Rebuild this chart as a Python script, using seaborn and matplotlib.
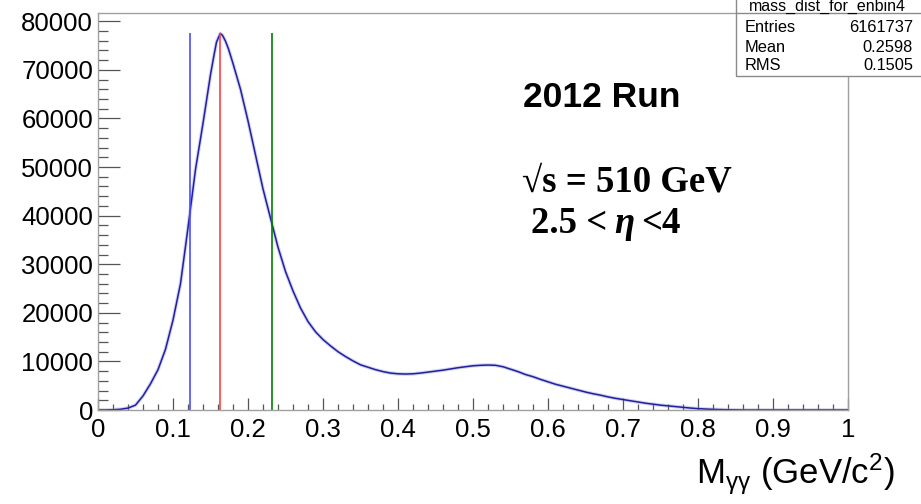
import matplotlib
matplotlib.use("Agg")
import matplotlib.pyplot as plt
from matplotlib.patches import Rectangle
from matplotlib.ticker import MultipleLocator
import pandas as pd
import seaborn as sns

# Diphoton invariant mass spectrum (counts per bin)
mass = [0.00, 0.01, 0.02, 0.03, 0.04, 0.05, 0.06, 0.07, 0.08, 0.09,
        0.10, 0.11, 0.12, 0.13, 0.14, 0.15, 0.155, 0.158, 0.163, 0.166,
        0.17, 0.174, 0.18,
        0.19, 0.20, 0.21, 0.22, 0.23, 0.24, 0.25, 0.26, 0.27, 0.28,
        0.29, 0.30, 0.31, 0.32, 0.33, 0.34, 0.35, 0.36, 0.37, 0.38,
        0.39, 0.40, 0.41, 0.42, 0.43, 0.44, 0.45, 0.46, 0.47, 0.48,
        0.49, 0.50, 0.51, 0.52, 0.53, 0.54, 0.55, 0.56, 0.57, 0.58,
        0.59, 0.60, 0.61, 0.62, 0.63, 0.64, 0.65, 0.66, 0.67, 0.68,
        0.69, 0.70, 0.71, 0.72, 0.73, 0.74, 0.75, 0.76, 0.77, 0.78,
        0.79, 0.80, 0.82, 0.84, 0.86, 0.90, 0.95, 1.00]
counts = [0, 0, 50, 150, 400, 1000, 2900, 5400, 8300, 12500,
          18500, 26000, 37500, 49500, 59000, 69000, 73300, 75700, 77500, 77100,
          75900, 74300, 71300,
          66000, 59500, 52500, 45500, 39500, 33500, 28500, 24500, 21000, 18200,
          16100, 14500, 13200, 12000, 11000, 10100, 9300, 8800, 8300, 7900,
          7600, 7450, 7400, 7450, 7600, 7800, 8000, 8200, 8450, 8700,
          8900, 9100, 9200, 9250, 9200, 8900, 8400, 7900, 7300, 6850,
          6300, 5800, 5300, 4900, 4500, 4100, 3700, 3350, 3050, 2700,
          2400, 2150, 1900, 1650, 1400, 1200, 1000, 850, 700, 550,
          400, 280, 130, 40, 0, 0, 0, 0]

# Mass window markers: lower cut, peak, upper cut
cut_positions = [0.122, 0.163, 0.2315]
cut_colors = ["#4d4dff", "#ff4040", "#008000"]

# Histogram statistics
stats_title = "mass_dist_for_enbin4"
stats_names = ["Entries", "Mean", "RMS"]
stats_values = ["6161737", "0.2598", "0.1505"]

x_ticks = [0, 0.1, 0.2, 0.3, 0.4, 0.5, 0.6, 0.7, 0.8, 0.9, 1]
x_tick_labels = ["0", "0.1", "0.2", "0.3", "0.4", "0.5", "0.6", "0.7", "0.8", "0.9", "1"]
y_ticks = [0, 10000, 20000, 30000, 40000, 50000, 60000, 70000, 80000]

df = pd.DataFrame({"mass": mass, "counts": counts})

sns.set_theme(style="white")
plt.rcParams["font.family"] = ["Liberation Sans", "DejaVu Sans"]
plt.rcParams["mathtext.fontset"] = "custom"
plt.rcParams["mathtext.rm"] = "Liberation Sans"
plt.rcParams["mathtext.it"] = "Liberation Sans"

W, H = 921, 504
fig = plt.figure(figsize=(W / 100, H / 100), dpi=100)
fig.patch.set_facecolor("white")


def fx(px):
    return px / W


def fy(py):
    return 1 - py / H


ax = fig.add_axes([fx(98), fy(410), fx(848) - fx(98), fy(13) - fy(410)])
ax.set_facecolor("white")

# soft halo under the histogram line
sns.lineplot(data=df, x="mass", y="counts", ax=ax, color="#8080d0",
             lw=2.6, alpha=0.35, legend=False)
sns.lineplot(data=df, x="mass", y="counts", ax=ax, color="#2020a0",
             lw=1.1, legend=False)

peak = max(counts)
ax.vlines(cut_positions, 0, peak, colors=cut_colors, lw=1.2)

ax.set_xlim(0, 1)
ax.set_ylim(0, 81700)
ax.set_xticks(x_ticks)
ax.set_xticklabels(x_tick_labels)
ax.set_yticks(y_ticks)
ax.set_yticklabels([str(v) for v in y_ticks])
ax.xaxis.set_minor_locator(MultipleLocator(0.02))
ax.yaxis.set_minor_locator(MultipleLocator(2000))

ax.tick_params(axis="both", which="both", direction="in", colors="#555555",
               labelcolor="black", labelsize=18.5, width=0.9)
ax.tick_params(axis="y", which="major", length=15.5, pad=3.5)
ax.tick_params(axis="y", which="minor", length=7.5)
ax.tick_params(axis="x", which="major", length=8.5, pad=6)
ax.tick_params(axis="x", which="minor", length=4.5)
ax.tick_params(top=False, right=False, which="both")
ax.tick_params(axis="both", which="both", bottom=True, left=True)

for side in ["left", "bottom", "top", "right"]:
    ax.spines[side].set_visible(True)
    ax.spines[side].set_color("#a0a0a0")
    ax.spines[side].set_linewidth(1.0)

ax.set_xlabel("")
ax.set_ylabel("")

fig.text(fx(895), fy(474), r"M$_{\mathrm{\gamma\gamma}}$ (GeV/c$^{2}$)",
         ha="right", va="center", fontsize=25, color="black")

# run / kinematics annotations
fig.text(fx(523), fy(107), "2012 Run", ha="left", va="baseline",
         fontsize=25.5, fontweight="bold", color="black")
serif = ["Liberation Serif", "DejaVu Serif"]
fig.text(fx(522), fy(192), "\u221as = 510 GeV", ha="left", va="baseline",
         fontsize=26.5, fontweight="bold", family=serif, color="black")
fig.text(fx(531), fy(233), "2.5 <", ha="left", va="baseline",
         fontsize=26.5, fontweight="bold", family=serif, color="black")
fig.text(fx(614), fy(233), "\u03b7", ha="left", va="baseline",
         fontsize=26.5, fontweight="bold", fontstyle="italic", family=serif,
         color="black")
fig.text(fx(641), fy(233), "<4", ha="left", va="baseline",
         fontsize=26.5, fontweight="bold", family=serif, color="black")

# statistics box
box = Rectangle((fx(735.5), fy(76)), fx(930) - fx(735.5), fy(-10) - fy(76),
                transform=fig.transFigure, facecolor="white",
                edgecolor="#8a8a8a", lw=1.0, zorder=5)
fig.patches.append(box)
fig.add_artist(plt.Line2D([fx(735.5), fx(930)], [fy(13), fy(13)],
                          transform=fig.transFigure, color="#8a8a8a", lw=1.0,
                          zorder=6))
fig.text(fx(827), fy(6.5), stats_title, ha="center", va="center",
         fontsize=11.5, color="black", zorder=7)
row_y = [27, 47, 66]
for name, value, yy in zip(stats_names, stats_values, row_y):
    fig.text(fx(745), fy(yy), name, ha="left", va="center",
             fontsize=11.8, color="black", zorder=7)
    fig.text(fx(913), fy(yy), value, ha="right", va="center",
             fontsize=11.8, color="black", zorder=7)

fig.savefig("out.png", dpi=100, facecolor="white")
